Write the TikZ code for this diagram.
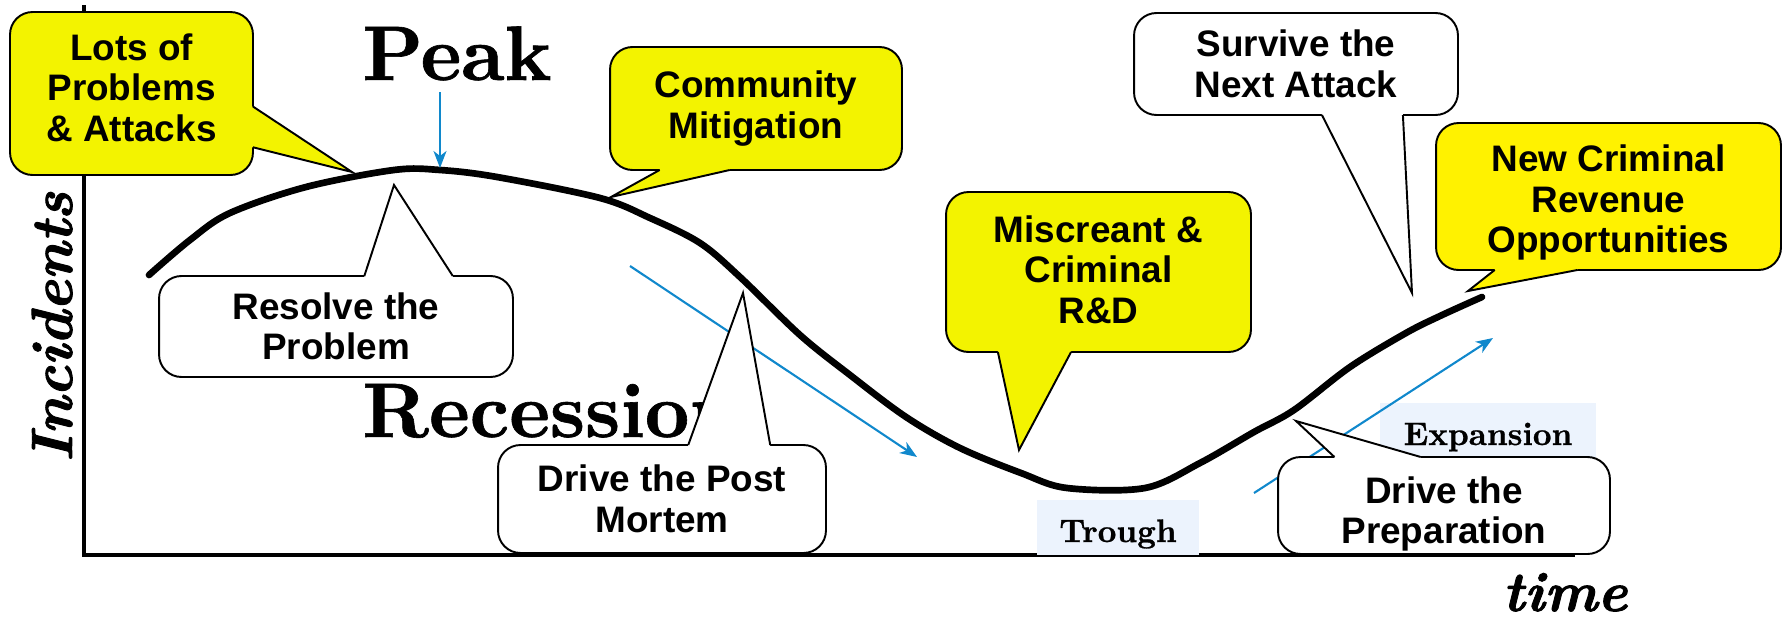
\documentclass[tikz,border=0pt]{standalone}
\usepackage{fontspec}
\usepackage{tikz}
\usetikzlibrary{arrows.meta,calc}
\newfontfamily\callfont{Liberation Sans}
\newfontfamily\heavyserif{lmroman10-bold.otf}[FakeBold=0.8, ItalicFont=lmroman10-bolditalic.otf, ItalicFeatures={FakeBold=1.6}]
\definecolor{calloutyellow}{RGB}{243,243,0}
\definecolor{trendblue}{RGB}{16,136,204}
\definecolor{phasefill}{RGB}{236,243,253}
\tikzset{callbox/.style={draw, rectangle, rounded corners=0.45cm, line width=1.1pt, inner sep=0pt, outer sep=0pt, align=center, font=\callfont\bfseries\fontsize{21}{23}\selectfont}}
\tikzset{hotbox/.style={callbox, fill=calloutyellow}}
\tikzset{coolbox/.style={callbox, fill=white}}
\tikzset{tailedge/.style={draw, line width=1.1pt, line join=miter}}
\tikzset{axisline/.style={draw, line width=2.8pt}}
\tikzset{cycleline/.style={draw, line width=3.8pt, line join=round, line cap=round}}
\tikzset{trend/.style={draw=trendblue, line width=1.2pt, -{Stealth[length=0.34cm, width=0.26cm, inset=0.1cm]}}}
\tikzset{phasebox/.style={fill=phasefill, inner sep=0pt, anchor=base, text height=0.84cm, font=\heavyserif\fontsize{18.5}{20}\selectfont}}
\tikzset{bigword/.style={inner sep=0pt, anchor=base west, font=\heavyserif\fontsize{44}{48}\selectfont}}
\tikzset{axisword/.style={inner sep=0pt, font=\heavyserif\itshape\fontsize{32}{34}\selectfont}}
\newcommand{\calltail}[5]{%
  \fill[#4] ($(#1)+(#5)$) -- (#1) -- (#3) -- (#2) -- ($(#2)+(#5)$) -- cycle;
  \path[tailedge] (#1) -- (#3) -- (#2);
}

\begin{document}
\begin{tikzpicture}[x=0.02cm, y=-0.02cm]
		\useasboundingbox (0,0) rectangle (1788,619);
		
		% axes
		\coordinate (origin) at (84,555);
		\coordinate (ytop) at (84,5);
		\coordinate (xend) at (1575,555);
		\path[axisline] (ytop) -- (origin) -- (xend);
		\node[axisword, rotate=90, font=\heavyserif\itshape\fontsize{33}{35}\selectfont] (incidents) at (52,327) {Incidents};
		\node[axisword, anchor=base] (time) at (1565,611) {time};
		
		% phases
		\node[phasebox, minimum width=3.26cm, text depth=0.26cm] (trough) at (1118,542) {Trough};
		\node[phasebox, minimum width=4.34cm, text depth=0.3cm] (expansion) at (1488,445) {Expansion};
		\node[bigword] (peak) at (362,80) {Peak};
		\node[bigword] (recession) at (362,437) {Recession};
		
		% the cycle
		\path[cycleline] plot[smooth, tension=0.55] coordinates {(149,275) (190,240) (230,213) (306,187) (394,170) (440,170) (497,177) (600,198) (650,218) (700,243) (740,277) (800,335) (850,375) (906,417) (960,448) (1021,473) (1067,488) (1145,488) (1200,463) (1254,432) (1294,410) (1350,367) (1406,333) (1440,316) (1482,297)};
		
		% trends
		\coordinate (peaktop) at (440,92);
		\coordinate (peaktip) at (440,168);
		\coordinate (fallstart) at (630,266);
		\coordinate (fallend) at (917,457);
		\coordinate (risestart) at (1254,493);
		\coordinate (riseend) at (1493,338);
		\path[trend] (peaktop) -- (peaktip);
		\path[trend] (fallstart) -- (fallend);
		\path[trend] (risestart) -- (riseend);
		
		% callouts
		\node[hotbox, minimum width=4.86cm, minimum height=3.26cm, text depth=7pt] (problems) at (131.5,93.5) {Lots of\\Problems\\\& Attacks};
		\path (problems.north east) -- (problems.south east) coordinate[pos=.58] (pr1) coordinate[pos=.83] (pr2);
		\coordinate (prtip) at (352,172);
		\calltail{pr1}{pr2}{prtip}{calloutyellow}{-3,0}
		
		\node[coolbox, minimum width=7.08cm, minimum height=2.02cm] (resolve) at (336,326.5) {Resolve the\\Problem};
		\path (resolve.north west) -- (resolve.north east) coordinate[pos=.58] (re1) coordinate[pos=.83] (re2);
		\coordinate (retip) at (394,185);
		\calltail{re1}{re2}{retip}{white}{0,3}
		
		\node[hotbox, minimum width=5.84cm, minimum height=2.46cm] (mitigation) at (756,108.5) {Community\\Mitigation};
		\path (mitigation.south west) -- (mitigation.south east) coordinate[pos=.17] (mi1) coordinate[pos=.41] (mi2);
		\coordinate (mitip) at (611,197);
		\calltail{mi1}{mi2}{mitip}{calloutyellow}{0,-3}
		
		\node[coolbox, minimum width=6.56cm, minimum height=2.16cm] (postmortem) at (662,499) {Drive the Post\\Mortem};
		\path (postmortem.north west) -- (postmortem.north east) coordinate[pos=.58] (pm1) coordinate[pos=.83] (pm2);
		\coordinate (pmtip) at (743,293);
		\calltail{pm1}{pm2}{pmtip}{white}{0,3}
		
		\node[hotbox, minimum width=6.10cm, minimum height=3.20cm, text depth=3pt] (research) at (1098.5,272) {Miscreant \&\\Criminal\\R\&D};
		\path (research.south west) -- (research.south east) coordinate[pos=.17] (rd1) coordinate[pos=.41] (rd2);
		\coordinate (rdtip) at (1019,450);
		\calltail{rd1}{rd2}{rdtip}{calloutyellow}{0,-3}
		
		\node[coolbox, minimum width=6.48cm, minimum height=2.04cm] (survive) at (1296,64) {Survive the\\Next Attack};
		\path (survive.south west) -- (survive.south east) coordinate[pos=.58] (su1) coordinate[pos=.83] (su2);
		\coordinate (sutip) at (1412,293);
		\calltail{su1}{su2}{sutip}{white}{0,-3}
		
		\node[hotbox, fill=yellow, minimum width=6.90cm, minimum height=2.94cm, text height=68pt] (revenue) at (1608.5,196.5) {New Criminal\\Revenue\\Opportunities};
		\path (revenue.south west) -- (revenue.south east) coordinate[pos=.17] (rv1) coordinate[pos=.41] (rv2);
		\coordinate (rvtip) at (1468,291);
		\calltail{rv1}{rv2}{rvtip}{yellow}{0,-3}
		
		\node[coolbox, minimum width=6.64cm, minimum height=1.94cm, text height=48pt] (preparation) at (1444,505.5) {Drive the\\Preparation};
		\path (preparation.north west) -- (preparation.north east) coordinate[pos=.17] (pp1) coordinate[pos=.43] (pp2);
		\coordinate (pptip) at (1296,421);
		\calltail{pp1}{pp2}{pptip}{white}{0,3}
		
\end{tikzpicture}
\end{document}
